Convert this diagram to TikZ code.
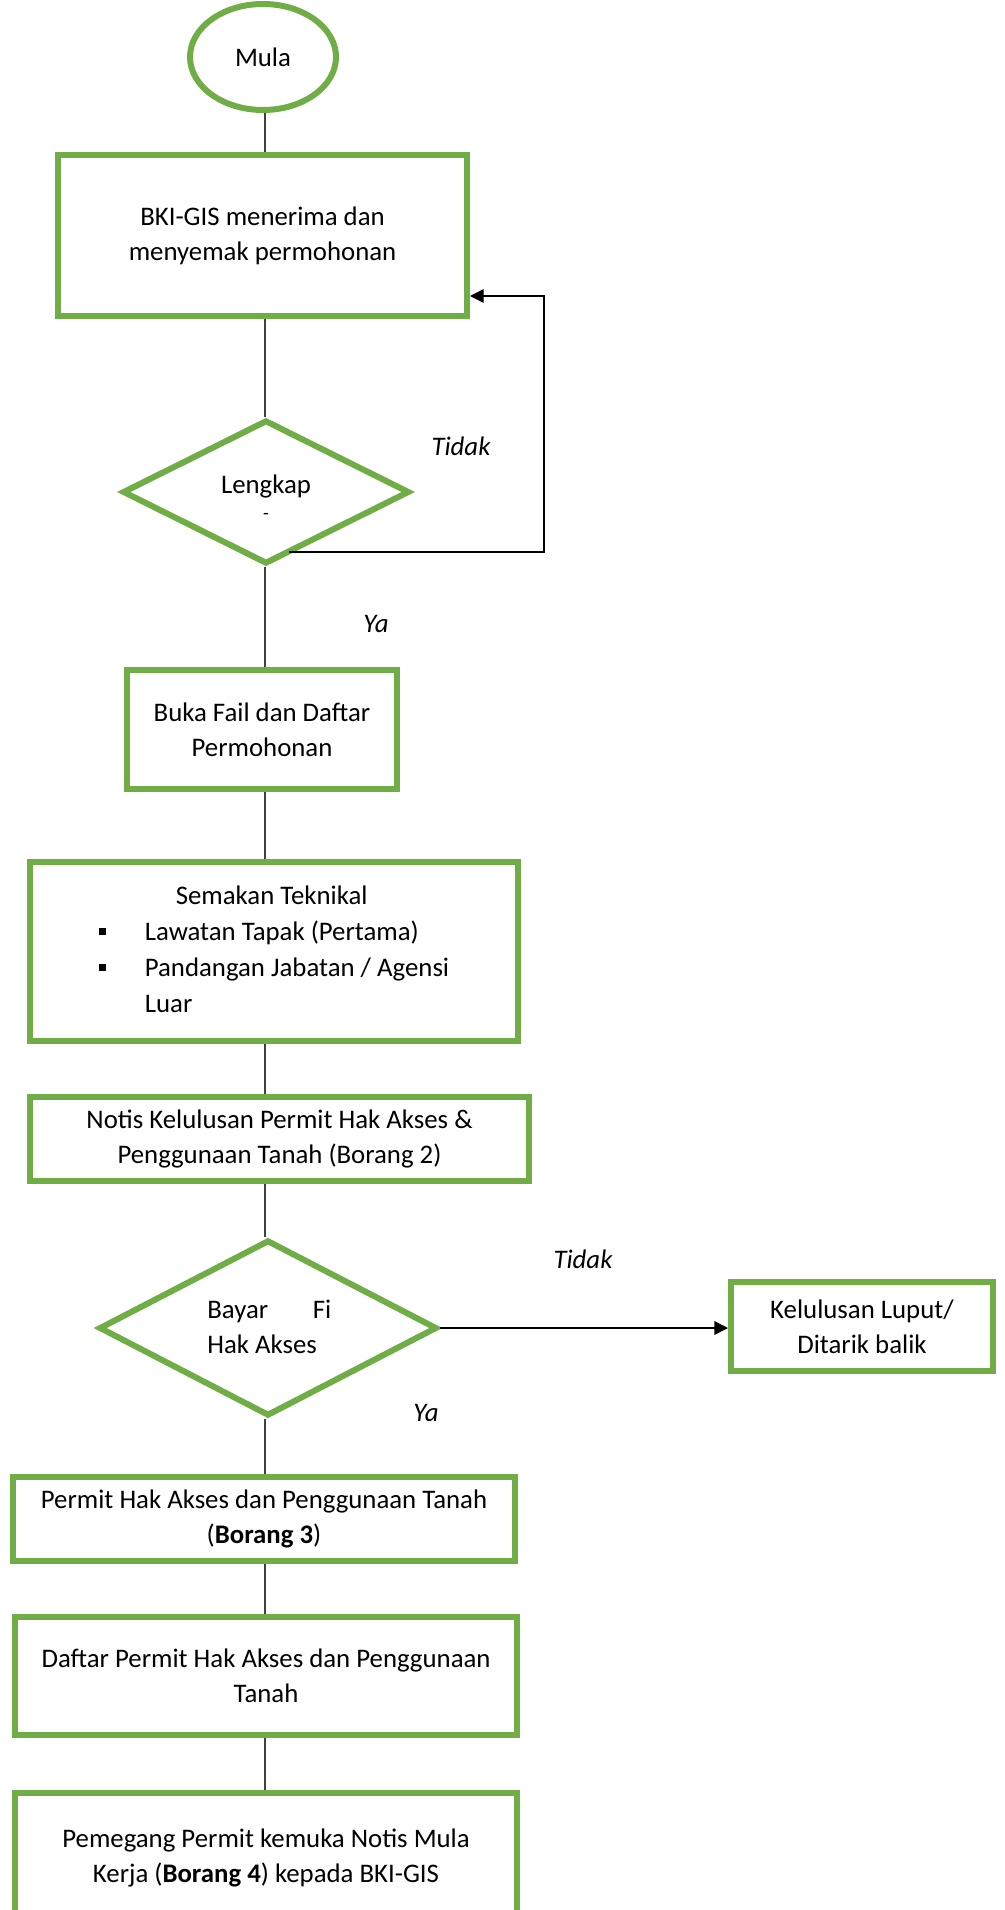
\documentclass[tikz,border=0pt]{standalone}
\usepackage{fontspec}
\setmainfont{Carlito}
\usetikzlibrary{shapes.geometric,arrows.meta,calc}
\definecolor{grn}{HTML}{70AD47}
\definecolor{connc}{HTML}{404040}
\newlength\px \setlength\px{0.5pt}
\newcommand\txtfont{\fontsize{13.4}{17.5}\selectfont}
\newcommand\sqbul{\rule[5.5\px]{7.5\px}{7.5\px}}
\begin{document}
\begin{tikzpicture}[x=0.5pt,y=-0.5pt,
  box/.style={draw=grn, line width=3pt, fill=white, rectangle, inner sep=0pt, align=center, font=\txtfont},
  dec/.style={draw=grn, line width=3pt, fill=white, diamond, shape aspect=2, inner sep=0pt, align=center, font=\txtfont},
  startnode/.style={draw=grn, line width=3pt, fill=white, ellipse, inner sep=0pt, font=\txtfont},
  conn/.style={draw=connc, line width=0.75pt},
  arr/.style={draw=black, line width=0.65pt, -{Triangle[length=6.8pt,width=6.8pt]}},
  lbl/.style={font=\txtfont\itshape, inner sep=0pt},
  dectext/.style={font=\txtfont, inner sep=0pt, align=center}]
\useasboundingbox (0,0) rectangle (1005,1910);

\coordinate (spine) at (265,0);

\node[startnode, minimum width=146\px, minimum height=106\px] (mula) at (263,57) {Mula};
\node[box, minimum width=409\px, minimum height=161\px] (b1) at (262.5,235.5) {BKI-GIS menerima dan\\menyemak permohonan};
\node[dec, minimum width=287\px, minimum height=144\px] (d1) at (266,492) {};
\node[dectext, anchor=base] (d1t) at (266,493) {Lengkap};
\node[dectext, anchor=base, font=\fontsize{9.5}{9.5}\selectfont] (d1d) at (266,519) {-};
\node[box, minimum width=270\px, minimum height=119\px] (b2) at (262,729.5) {Buka Fail dan Daftar\\Permohonan};
\node[box, minimum width=488\px, minimum height=179\px, font=\fontsize{13.4}{18}\selectfont] (b3) at (274,951.5)
  {\begin{tabular}{@{}p{46\px}@{}l@{}}
   \multicolumn{2}{@{}l@{}}{\hspace{77\px}Semakan Teknikal}\\
   \sqbul & Lawatan Tapak (Pertama)\\
   \sqbul & Pandangan Jabatan / Agensi\\
          & Luar
   \end{tabular}};
\node[box, minimum width=499\px, minimum height=84\px] (b4) at (279.5,1139) {Notis Kelulusan Permit Hak Akses \&\\Penggunaan Tanah (Borang 2)};
\node[dec, minimum width=338\px, minimum height=176\px, align=left] (d2) at (268,1328) {};
\node[dectext, align=left, anchor=north west] (d2t) at (207,1300) {\makebox[124\px][s]{Bayar\hfill Fi}\\Hak Akses};
\node[box, minimum width=262\px, minimum height=89\px] (b5) at (862,1326.5) {Kelulusan Luput/\\Ditarik balik};
\node[box, minimum width=502\px, minimum height=84\px] (b6) at (264,1519) {Permit Hak Akses dan Penggunaan Tanah\\(\textbf{Borang 3})};
\node[box, minimum width=502\px, minimum height=118\px] (b7) at (266,1676) {Daftar Permit Hak Akses dan Penggunaan\\Tanah};
\node[box, minimum width=502\px, minimum height=130\px] (b8) at (266,1858) {Pemegang Permit kemuka Notis Mula\\Kerja (\textbf{Borang 4}) kepada BKI-GIS};

% connectors
\draw[conn] (mula.south -| spine) -- (b1.north -| spine);
\draw[conn] (b1.south -| spine) -- (d1.north -| spine);
\draw[conn] (d1.south -| spine) -- (b2.north -| spine);
\draw[conn] (b2.south -| spine) -- (b3.north -| spine);
\draw[conn] (b3.south -| spine) -- (b4.north -| spine);
\draw[conn] (b4.south -| spine) -- (d2.north -| spine);
\draw[conn] (d2.south -| spine) -- (b6.north -| spine);
\draw[conn] (b6.south -| spine) -- (b7.north -| spine);
\draw[conn] (b7.south -| spine) -- (b8.north -| spine);

% feedback loop
\coordinate (fbstart) at ($(d1.south)!0.2!(d1.east) + (-6,0)$);
\coordinate (fbt) at (544,296);
\draw[arr] (fbstart) -- (fbstart -| fbt) -- (fbt) -- (fbt -| b1.east);

% Tidak branch
\draw[arr] (d2.east) -- (d2.east -| b5.west);

% labels
\node[lbl] (t1) at (461,446) {Tidak};
\node[lbl] (y1) at (376,624) {Ya};
\node[lbl] (t2) at (583,1259) {Tidak};
\node[lbl] (y2) at (426,1413) {Ya};
\end{tikzpicture}
\end{document}
